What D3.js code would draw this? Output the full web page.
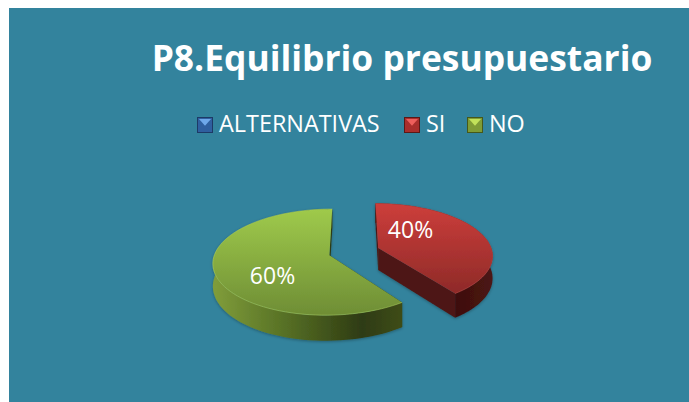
<!DOCTYPE html>
<html>
    <head>
        <meta charset="utf-8">
        <title>P8.Equilibrio presupuestario</title>
        <script src="https://cdnjs.cloudflare.com/ajax/libs/d3/7.8.5/d3.min.js"></script>
        <style>
            html, body { margin: 0; padding: 0; background: #fff; }
            svg { display: block; }
            text { font-family: "Open Sans", "Noto Sans", sans-serif; fill: #fff; }
        </style>
    </head>
    <body>
        <div id="container"></div>

        <script>
            // Data
            var chartTitle = "P8.Equilibrio presupuestario";
            var categories = ["ALTERNATIVAS", "SI", "NO"];
            var values = [0, 40, 60];

            // Colours per category
            var baseColors = ["#2f5f9f", "#a92e2c", "#7f9c36"];
            var lightColors = ["#6fa8ea", "#ee5f5c", "#c2e25a"];
            var darkColors = ["#1d3a66", "#5c1816", "#46581a"];

            var w = 689, h = 402;

            // Perspective of the pie: unit circle on a tilted plane
            var explode = 0.225;   // how far the slices are pulled out
            var perspective = 0.13;
            var depth = 22;        // height of the pie in pixels
            var xScale = d3.scaleLinear().domain([-1, 1]).range([354 - 114, 354 + 114]);
            var yScale = d3.scaleLinear().domain([-1, 1]).range([251.6 + 51.2, 251.6 - 51.2]);

            var svg = d3.select("#container").append("svg")
                .attr("width", w)
                .attr("height", h);

            svg.append("rect")
                .attr("x", 9).attr("y", 8)
                .attr("width", w - 9).attr("height", h - 8)
                .attr("fill", "#33839d");

            var defs = svg.append("defs");

            function gradient(id, x1, y1, x2, y2, stops) {
                var g = defs.append("linearGradient")
                    .attr("id", id)
                    .attr("gradientUnits", "userSpaceOnUse")
                    .attr("x1", x1).attr("y1", y1)
                    .attr("x2", x2).attr("y2", y2);
                stops.forEach(function(s) {
                    g.append("stop").attr("offset", s[0]).attr("stop-color", s[1]);
                });
            }

            gradient("topSI", 0, 203, 0, 294, [[0, "#cd3e3b"], [1, "#8e2a28"]]);
            gradient("topNO", 0, 209, 0, 316, [[0, "#9fca4b"], [1, "#6e8d35"]]);
            gradient("wallSI", 378, 0, 492, 0, [[0, "#4d1614"], [0.7, "#3e0f0e"], [1, "#4c1513"]]);
            gradient("wallNO", 215, 0, 399, 0, [[0, "#7f9c3a"], [0.35, "#5a7427"], [0.8, "#2e3b12"], [1, "#3d4b18"]]);

            var shadow = defs.append("filter").attr("id", "pieShadow")
                .attr("x", "-10%").attr("y", "-10%").attr("width", "120%").attr("height", "120%");
            shadow.append("feDropShadow")
                .attr("dx", 0).attr("dy", 1)
                .attr("stdDeviation", 1.5)
                .attr("flood-color", "#000").attr("flood-opacity", 0.3);

            // Title
            svg.append("text")
                .attr("x", 402).attr("y", 71)
                .attr("text-anchor", "middle")
                .attr("font-size", 35.4)
                .attr("font-weight", 700)
                .text(chartTitle);

            // Legend
            var legendX = [197, 404, 467];
            var legendSize = 16;
            var legend = svg.selectAll("g.legend")
                .data(categories)
                .enter()
                .append("g")
                .attr("class", "legend")
                .attr("transform", function(d, i) {
                    return "translate(" + legendX[i] + ",117)";
                });

            legend.append("rect")
                .attr("width", legendSize).attr("height", legendSize)
                .attr("fill", function(d, i) { return baseColors[i]; });
            // bevel: bright triangle on top, dark rim around
            legend.append("path")
                .attr("d", "M2,2H" + (legendSize - 2) + "L" + (legendSize / 2) + "," + (legendSize * 0.55) + "Z")
                .attr("fill", function(d, i) { return lightColors[i]; });
            legend.append("rect")
                .attr("x", 0.5).attr("y", 0.5)
                .attr("width", legendSize - 1).attr("height", legendSize - 1)
                .attr("fill", "none")
                .attr("stroke", function(d, i) { return darkColors[i]; });
            legend.append("text")
                .attr("x", legendSize + 6)
                .attr("y", 15)
                .attr("font-size", 23.4)
                .text(function(d) { return d; });

            // Pie
            var pie = d3.pie().sort(null).value(function(d) { return d; });
            var slices = pie(values);

            // project a point of the pie (radius r, angle a clockwise from 12 o'clock)
            function project(slice, r, a, down) {
                var mid = (slice.startAngle + slice.endAngle) / 2;
                var X = explode * Math.sin(mid) + r * Math.sin(a);
                var Y = explode * Math.cos(mid) + r * Math.cos(a);
                var k = 1 + perspective * Y;
                return [xScale(X / k), yScale(Y / k) + (down ? depth / k : 0)];
            }

            function arcPoints(slice, down) {
                var n = 80;
                return d3.range(n + 1).map(function(i) {
                    var a = slice.startAngle + (slice.endAngle - slice.startAngle) * i / n;
                    return project(slice, 1, a, down);
                });
            }

            var line = d3.line();
            var pieGroup = svg.append("g").attr("filter", "url(#pieShadow)");

            function drawSlice(i) {
                var s = slices[i];
                var name = categories[i];
                var apex = project(s, 0, 0, false);
                var apexDown = project(s, 0, 0, true);
                var top = arcPoints(s, false);
                var bottom = arcPoints(s, true);
                var g = pieGroup.append("g");

                // cut walls
                g.append("path")
                    .attr("d", line([apex, top[0], bottom[0], apexDown]) + "Z")
                    .attr("fill", name == "NO" ? "#2e3b12" : "#4d1614");
                g.append("path")
                    .attr("d", line([apex, top[top.length - 1], bottom[bottom.length - 1], apexDown]) + "Z")
                    .attr("fill", name == "NO" ? "#2e3b12" : "#4d1614");
                // outer wall
                g.append("path")
                    .attr("d", line(top.concat(bottom.slice().reverse())) + "Z")
                    .attr("fill", "url(#wall" + name + ")");
                // top face
                g.append("path")
                    .attr("d", line([apex].concat(top)) + "Z")
                    .attr("fill", "url(#top" + name + ")");
                // light rim on the front edge
                g.append("path")
                    .attr("d", line(top))
                    .attr("fill", "none")
                    .attr("stroke", name == "NO" ? "#a9cc5e" : "#c2403c")
                    .attr("stroke-opacity", 0.7)
                    .attr("stroke-width", 0.8);
            }

            drawSlice(2);
            drawSlice(1);

            // Data labels
            var labelPos = { SI: [410.5, 238], NO: [272.5, 284] };
            categories.forEach(function(name, i) {
                if (!values[i]) return;
                svg.append("text")
                    .attr("x", labelPos[name][0])
                    .attr("y", labelPos[name][1])
                    .attr("text-anchor", "middle")
                    .attr("font-size", 23)
                    .text(values[i] + "%");
            });
        </script>
    </body>
</html>
